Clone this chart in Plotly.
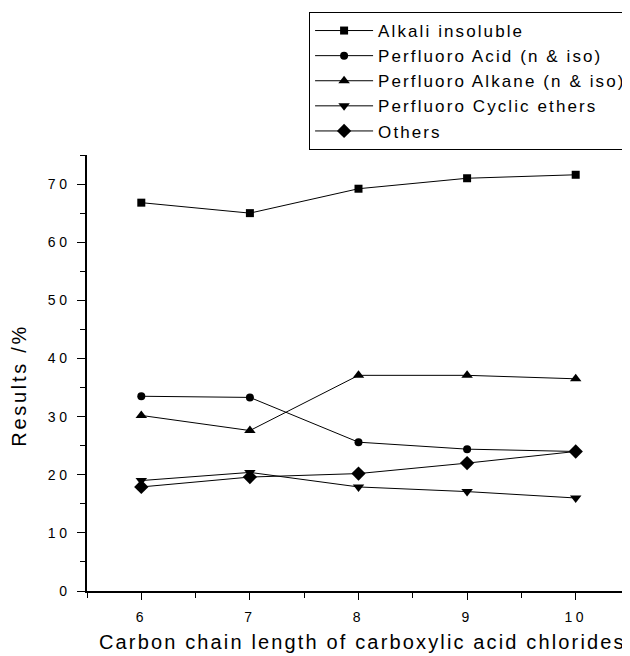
import plotly.graph_objects as go

chain_length = [6, 7, 8, 9, 10]
alkali_insoluble = [66.8, 65.0, 69.2, 71.0, 71.6]
perfluoro_acid = [33.5, 33.3, 25.6, 24.4, 24.0]
perfluoro_alkane = [30.2, 27.6, 37.1, 37.1, 36.5]
perfluoro_cyclic_ethers = [19.0, 20.4, 17.9, 17.1, 16.0]
others = [17.9, 19.6, 20.2, 22.0, 24.0]
y_ticks = [0, 10, 20, 30, 40, 50, 60, 70]

series = [
    ("Alkali insoluble", alkali_insoluble, "square", 8),
    ("Perfluoro Acid (n & iso)", perfluoro_acid, "circle", 8),
    ("Perfluoro Alkane (n & iso)", perfluoro_alkane, "triangle-up", 10),
    ("Perfluoro Cyclic ethers", perfluoro_cyclic_ethers, "triangle-down", 10),
    ("Others", others, "diamond", 11),
]


def spaced(text, px):
    return '<span style="letter-spacing:%spx">%s</span>' % (px, text)


fig = go.Figure()
for name, vals, sym, sz in series:
    fig.add_trace(go.Scatter(
        x=chain_length, y=vals, name=spaced(name, 2.1), mode="lines+markers",
        line=dict(color="black", width=1),
        marker=dict(symbol=sym, size=sz, color="black"),
    ))

font_family = "Liberation Sans, Arial, sans-serif"
fig.update_layout(
    width=630, height=656,
    margin=dict(l=79, r=8, t=147, b=73, autoexpand=False),
    paper_bgcolor="white", plot_bgcolor="white",
    font=dict(family=font_family, color="black"),
    showlegend=True,
    legend=dict(
        x=0.409, y=1.328, xanchor="left", yanchor="top",
        bordercolor="black", borderwidth=1, bgcolor="white",
        font=dict(size=17, family=font_family), itemwidth=58,
        tracegroupgap=0,
    ),
    xaxis=dict(
        range=[5.5, 10.5], tickvals=chain_length, automargin=False,
        ticktext=[spaced(str(v), 3.5) for v in chain_length],
        ticks="outside", ticklen=7, tickwidth=1.2, tickcolor="black",
        ticklabelstandoff=5,
        showline=True, linecolor="black", linewidth=1.5,
        showgrid=False, zeroline=False,
        tickfont=dict(size=14),
        minor=dict(dtick=0.5, tick0=5.5, ticks="outside", ticklen=5, tickcolor="black", tickwidth=1.2),
        title=dict(text=spaced("&nbsp;Carbon chain length of carboxylic acid chlorides", 2.15),
                   font=dict(size=20), standoff=11),
    ),
    yaxis=dict(
        range=[0, 75], tickvals=y_ticks, automargin=False,
        ticktext=[spaced(str(v), 3.5) for v in y_ticks],
        ticks="outside", ticklen=8, tickwidth=1.2, tickcolor="black",
        ticklabelstandoff=4,
        showline=True, linecolor="black", linewidth=1.5,
        showgrid=False, zeroline=False,
        tickfont=dict(size=14),
        minor=dict(dtick=5, tick0=0, ticks="outside", ticklen=5, tickcolor="black", tickwidth=1.2),
        title=dict(text=spaced("Results /%&nbsp;&nbsp;&nbsp;", 2.7), font=dict(size=20), standoff=16),
    ),
)

fig.write_html("out.html")
